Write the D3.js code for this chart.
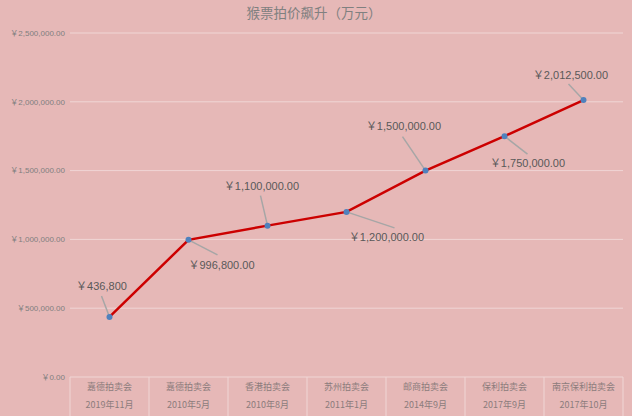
<!DOCTYPE html>
<html><head><meta charset="utf-8">
<script src="https://cdn.jsdelivr.net/npm/d3@7"></script>
<style>body{margin:0;background:#E6B8B7;} svg{display:block;}</style>
</head><body>
<svg id="c" width="632" height="416"></svg>
<script>
const title = "猴票拍价飙升（万元）";
const venues = ["嘉德拍卖会","嘉德拍卖会","香港拍卖会","苏州拍卖会","邮商拍卖会","保利拍卖会","南京保利拍卖会"];
const dates = ["2019年11月","2010年5月","2010年8月","2011年1月","2014年9月","2017年9月","2017年10月"];
const values = [436800, 996800, 1100000, 1200000, 1500000, 1750000, 2012500];
const valueLabels = ["￥436,800","￥996,800.00","￥1,100,000.00","￥1,200,000.00","￥1,500,000.00","￥1,750,000.00","￥2,012,500.00"];
const yTicks = [0, 500000, 1000000, 1500000, 2000000, 2500000];

// label placement (pixel offsets from the point): label centre and leader end
const placement = [
  {dx:-8, dy:-31, lx:-8, ly:-21},
  {dx:33, dy:25, lx:29, ly:15},
  {dx:-6, dy:-39, lx:-7, ly:-30},
  {dx:40, dy:25, lx:48, ly:16},
  {dx:-22, dy:-44, lx:-23, ly:-34},
  {dx:23, dy:27, lx:23, ly:18},
  {dx:-13, dy:-25, lx:-15, ly:-16}
];

const svg = d3.select("#c");
const W = 632, H = 416;
const m = {left:70, right:9, top:33, bottom:39};
const x = d3.scaleBand().domain(d3.range(venues.length)).range([m.left, W - m.right]);
const y = d3.scaleLinear().domain([0, 2500000]).range([H - m.bottom, m.top]);

svg.append("rect").attr("width", W).attr("height", H).attr("fill", "#E6B8B7");

const gridColor = "#F0D6D5";
svg.append("g").selectAll("line").data(yTicks).join("line")
  .attr("x1", m.left).attr("x2", W - m.right)
  .attr("y1", d => y(d)).attr("y2", d => y(d))
  .attr("stroke", gridColor).attr("stroke-width", 1);

// y axis labels
const fmt = d3.format(",.2f");
svg.append("g").selectAll("text").data(yTicks).join("text")
  .attr("x", 65).attr("y", d => y(d)).attr("dy", "0.35em")
  .attr("text-anchor", "end")
  .attr("font-family", "'Liberation Sans','Noto Sans CJK SC',sans-serif")
  .attr("font-size", 8).attr("fill", "#7F7F7F")
  .text(d => "￥" + fmt(d));

// category axis dividers
const xb = x.domain().map(i => x(i)).concat([x(venues.length - 1) + x.bandwidth()]);
svg.append("g").selectAll("line").data(xb).join("line")
  .attr("x1", d => d).attr("x2", d => d)
  .attr("y1", y(0)).attr("y2", H)
  .attr("stroke", gridColor).attr("stroke-width", 1);

const cat = svg.append("g").attr("font-family", "'Noto Sans CJK SC',sans-serif")
  .attr("font-size", 9).attr("fill", "#8C7C7C").attr("text-anchor", "middle");
cat.selectAll("text.v").data(venues).join("text").attr("class", "v")
  .attr("x", (d, i) => x(i) + x.bandwidth() / 2).attr("y", 390).text(d => d);
cat.selectAll("text.d").data(dates).join("text").attr("class", "d")
  .attr("x", (d, i) => x(i) + x.bandwidth() / 2).attr("y", 408).text(d => d);

// title
svg.append("text").attr("x", 314).attr("y", 18).attr("text-anchor", "middle")
  .attr("font-family", "'Noto Sans CJK SC',sans-serif").attr("font-size", 13.5)
  .attr("fill", "#808080").text(title);

const px = i => x(i) + x.bandwidth() / 2;

// leader lines
svg.append("g").selectAll("line").data(values).join("line")
  .attr("x1", (d, i) => px(i)).attr("y1", d => y(d))
  .attr("x2", (d, i) => px(i) + placement[i].lx).attr("y2", (d, i) => y(d) + placement[i].ly)
  .attr("stroke", "#A6A6A6").attr("stroke-width", 1.5);

// line
svg.append("path").datum(values)
  .attr("d", d3.line().x((d, i) => px(i)).y(d => y(d)))
  .attr("fill", "none").attr("stroke", "#CC0000").attr("stroke-width", 2.5);

// markers
svg.append("g").selectAll("circle").data(values).join("circle")
  .attr("cx", (d, i) => px(i)).attr("cy", d => y(d)).attr("r", 3)
  .attr("fill", "#4F81BD");

// data labels
svg.append("g").selectAll("text").data(values).join("text")
  .attr("x", (d, i) => px(i) + placement[i].dx).attr("y", (d, i) => y(d) + placement[i].dy)
  .attr("dy", "0.35em").attr("text-anchor", "middle")
  .attr("font-family", "'Liberation Sans','Noto Sans CJK SC',sans-serif")
  .attr("font-size", 11).attr("fill", "#595959")
  .text((d, i) => valueLabels[i]);
</script>
</body></html>
